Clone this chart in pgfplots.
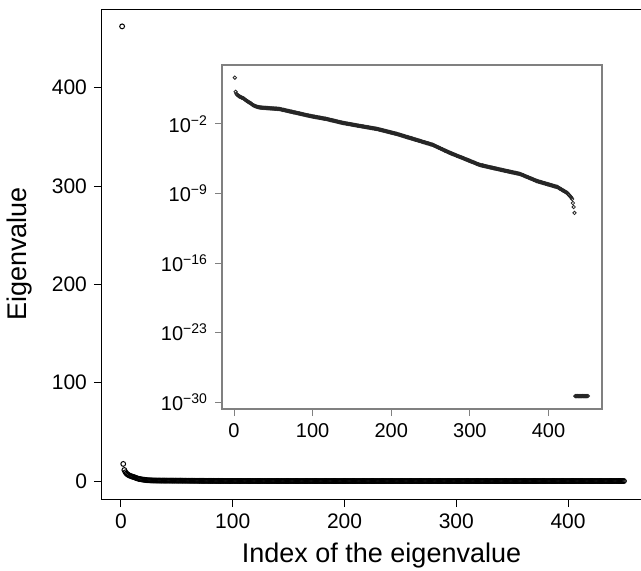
\documentclass[border=0pt]{standalone}
\usepackage{pgfplots}
\pgfplotsset{compat=1.18}
\usepackage{pgfplotstable}
\usepackage{fontspec}
\setmainfont{Liberation Sans}

% log10 of the eigenvalues, index 1..450
\pgfplotstableread{
logval
2.665
1.24
1.05
0.95
0.88
0.82
0.77
0.73
0.69
0.65
0.62
0.58
0.52
0.46
0.40
0.34
0.29
0.24
0.19
0.14
0.09
0.04
-0.03
-0.09
-0.13
-0.17
-0.20
-0.23
-0.26
-0.28
-0.30
-0.32
-0.33
-0.34
-0.35
-0.36
-0.37
-0.37
-0.38
-0.38
-0.39
-0.39
-0.40
-0.41
-0.41
-0.42
-0.42
-0.43
-0.44
-0.44
-0.45
-0.45
-0.46
-0.46
-0.47
-0.48
-0.48
-0.49
-0.51
-0.53
-0.55
-0.57
-0.58
-0.60
-0.62
-0.64
-0.66
-0.67
-0.69
-0.71
-0.73
-0.75
-0.76
-0.78
-0.80
-0.82
-0.84
-0.85
-0.87
-0.89
-0.91
-0.93
-0.94
-0.96
-0.98
-1.00
-1.02
-1.03
-1.05
-1.07
-1.09
-1.11
-1.12
-1.14
-1.16
-1.18
-1.19
-1.21
-1.22
-1.24
-1.25
-1.27
-1.28
-1.30
-1.31
-1.33
-1.34
-1.36
-1.37
-1.39
-1.40
-1.42
-1.43
-1.45
-1.46
-1.47
-1.49
-1.50
-1.52
-1.54
-1.56
-1.58
-1.60
-1.62
-1.64
-1.65
-1.67
-1.69
-1.71
-1.73
-1.75
-1.77
-1.79
-1.81
-1.83
-1.84
-1.86
-1.88
-1.90
-1.91
-1.93
-1.94
-1.96
-1.97
-1.99
-2.00
-2.01
-2.03
-2.04
-2.06
-2.07
-2.09
-2.10
-2.11
-2.13
-2.14
-2.16
-2.17
-2.19
-2.20
-2.21
-2.23
-2.24
-2.25
-2.27
-2.28
-2.30
-2.31
-2.32
-2.34
-2.35
-2.36
-2.38
-2.39
-2.40
-2.42
-2.43
-2.45
-2.46
-2.47
-2.49
-2.50
-2.52
-2.54
-2.56
-2.58
-2.60
-2.62
-2.64
-2.66
-2.68
-2.70
-2.72
-2.74
-2.76
-2.78
-2.80
-2.82
-2.84
-2.86
-2.88
-2.90
-2.92
-2.94
-2.96
-2.98
-3.00
-3.02
-3.05
-3.07
-3.10
-3.12
-3.14
-3.17
-3.19
-3.22
-3.24
-3.27
-3.29
-3.31
-3.34
-3.36
-3.39
-3.41
-3.43
-3.46
-3.48
-3.51
-3.53
-3.55
-3.58
-3.60
-3.63
-3.65
-3.67
-3.70
-3.72
-3.75
-3.77
-3.80
-3.82
-3.84
-3.87
-3.89
-3.92
-3.94
-3.96
-3.99
-4.01
-4.04
-4.06
-4.08
-4.11
-4.15
-4.18
-4.22
-4.26
-4.30
-4.33
-4.37
-4.41
-4.44
-4.48
-4.52
-4.55
-4.59
-4.63
-4.67
-4.70
-4.74
-4.78
-4.81
-4.85
-4.89
-4.92
-4.95
-4.98
-5.02
-5.05
-5.08
-5.11
-5.14
-5.18
-5.21
-5.24
-5.27
-5.30
-5.34
-5.37
-5.40
-5.43
-5.46
-5.50
-5.53
-5.56
-5.59
-5.62
-5.66
-5.69
-5.72
-5.75
-5.78
-5.82
-5.85
-5.88
-5.91
-5.94
-5.98
-6.01
-6.04
-6.07
-6.10
-6.13
-6.15
-6.17
-6.18
-6.20
-6.22
-6.24
-6.26
-6.28
-6.29
-6.31
-6.33
-6.35
-6.37
-6.38
-6.40
-6.42
-6.44
-6.46
-6.48
-6.49
-6.51
-6.53
-6.55
-6.57
-6.58
-6.60
-6.62
-6.64
-6.65
-6.67
-6.69
-6.71
-6.72
-6.74
-6.76
-6.78
-6.79
-6.81
-6.83
-6.85
-6.86
-6.88
-6.90
-6.92
-6.93
-6.95
-6.97
-6.99
-7.00
-7.02
-7.04
-7.07
-7.11
-7.14
-7.17
-7.21
-7.24
-7.27
-7.31
-7.34
-7.37
-7.41
-7.44
-7.47
-7.51
-7.54
-7.57
-7.61
-7.64
-7.67
-7.71
-7.74
-7.76
-7.79
-7.81
-7.83
-7.86
-7.88
-7.90
-7.93
-7.95
-7.97
-8.00
-8.02
-8.04
-8.07
-8.09
-8.11
-8.14
-8.16
-8.18
-8.21
-8.23
-8.25
-8.28
-8.30
-8.32
-8.34
-8.39
-8.43
-8.48
-8.53
-8.57
-8.62
-8.67
-8.72
-8.76
-8.81
-8.86
-8.90
-8.95
-9.05
-9.15
-9.25
-9.33
-9.42
-9.55
-9.96
-10.36
-10.96
-29.4
-29.4
-29.4
-29.4
-29.4
-29.4
-29.4
-29.4
-29.4
-29.4
-29.4
-29.4
-29.4
-29.4
-29.4
-29.4
-29.4
}\eig

\begin{document}
\begin{tikzpicture}
\useasboundingbox (-51pt,-35.5pt) rectangle (269.5pt,249.5pt);
\begin{axis}[
  scale only axis,
  width=269.5pt, height=245pt,
  xmin=-17, xmax=465.3, ymin=-18.3, ymax=480,
  xtick={0,100,200,300,400}, ytick={0,100,200,300,400},
  xtick pos=bottom, ytick pos=left,
  tick align=outside, major tick length=4pt,
  axis line style={line width=0.5pt},
  every tick/.style={black, line width=0.5pt},
  tick label style={font=\fontsize{10.5}{12}\selectfont},
  /pgf/number format/assume math mode=true,
  xlabel={Index of the eigenvalue}, ylabel={Eigenvalue},
  every axis x label/.style={at={(axis description cs:0.5,0)}, xshift=5pt, yshift=-28.5pt, anchor=center, font=\fontsize{13.5}{16}\selectfont},
  every axis y label/.style={at={(axis description cs:0,0.5)}, xshift=-41pt, rotate=90, anchor=center, font=\fontsize{13.5}{16}\selectfont},
]
\addplot[only marks, mark=o, mark size=1.2pt, black, line width=0.5pt]
  table[x expr=\coordindex+1, y expr={10^(\thisrow{logval})}, x index=0, y index=0] {\eig};
\end{axis}
\begin{axis}[
  at={(60pt,45pt)}, anchor=south west,
  scale only axis,
  width=190pt, height=172pt,
  xmin=-15.3, xmax=468, ymin=-30.7, ymax=3.94,
  xtick={0,100,200,300,400}, ytick={-30,-23,-16,-9,-2},
  yticklabels={10\textsuperscript{−30},10\textsuperscript{−23},10\textsuperscript{−16},10\textsuperscript{−9},10\textsuperscript{−2}},
  xtick pos=bottom, ytick pos=left,
  tick align=outside, major tick length=3.5pt,
  axis line style={gray, line width=0.6pt},
  every tick/.style={gray, line width=0.5pt},
  tick label style={font=\fontsize{10}{12}\selectfont},
  /pgf/number format/assume math mode=true,
  axis background/.style={fill=white},
]
\addplot[only marks, mark=o, mark size=0.85pt, black!85, line width=0.4pt]
  table[x expr=\coordindex+1, y index=0] {\eig};
\end{axis}
\end{tikzpicture}
\end{document}
